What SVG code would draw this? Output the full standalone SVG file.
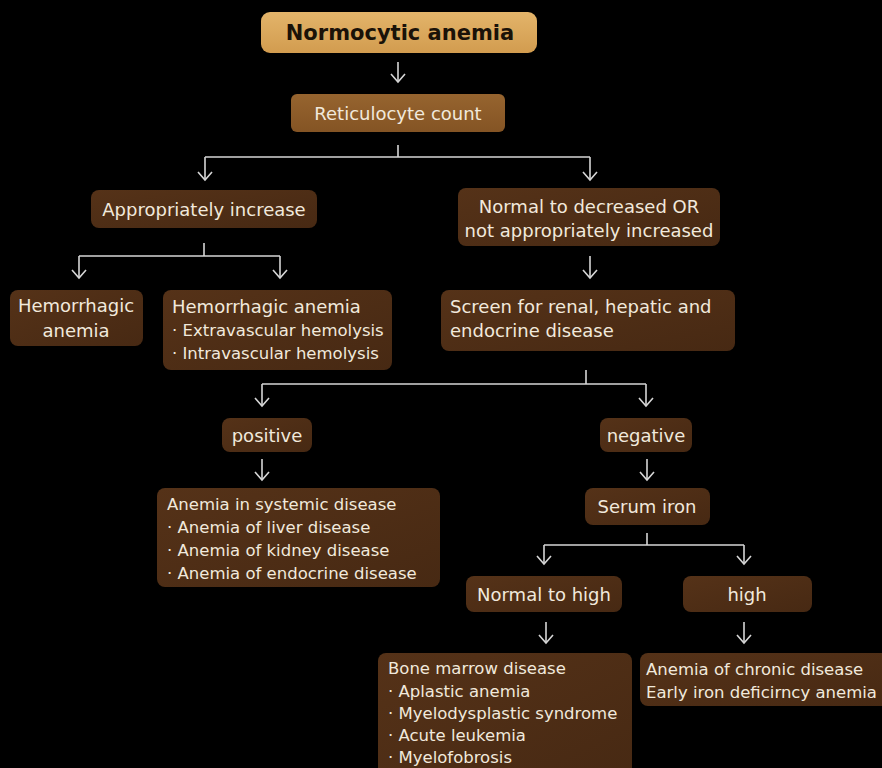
<svg xmlns="http://www.w3.org/2000/svg" width="882" height="768" viewBox="0 0 882 768">
  <defs>
    <linearGradient id="gold" x1="0" y1="0" x2="0" y2="1">
      <stop offset="0" stop-color="#e3b46a"/>
      <stop offset="1" stop-color="#d29c4f"/>
    </linearGradient>
    <linearGradient id="tan" x1="0" y1="0" x2="0" y2="1">
      <stop offset="0" stop-color="#96642f"/>
      <stop offset="1" stop-color="#845424"/>
    </linearGradient>
    <linearGradient id="brown" x1="0" y1="0" x2="1" y2="1">
      <stop offset="0" stop-color="#553218"/>
      <stop offset="1" stop-color="#472913"/>
    </linearGradient>
    <marker id="vee" markerUnits="userSpaceOnUse" markerWidth="14" markerHeight="20" viewBox="-12 -10 14 20" refX="0" refY="0" orient="auto">
      <path d="M-8,-7 L0,0 L-8,7" fill="none" stroke="#d6d6d6" stroke-width="1.6"/>
    </marker>
    <style>
      .box { fill: url(#brown); }
      .txt { font-family: "DejaVu Sans", "Noto Sans", sans-serif; font-size: 18px; fill: #f1e9dc; }
      .sm { font-size: 16.5px; }
      .mid { text-anchor: middle; }
      .wire { fill: none; stroke: #d6d6d6; stroke-width: 1.6; }
    </style>
  </defs>
  <rect width="882" height="768" fill="#000"/>

  <g id="n-normocytic">
    <rect x="261" y="12" width="276" height="41" rx="9" fill="url(#gold)"/>
    <text x="400" y="40" class="mid" font-family="'DejaVu Sans', sans-serif" font-size="21" font-weight="bold" fill="#1a1208">Normocytic anemia</text>
  </g>
  <g id="n-retic">
    <rect x="291" y="94" width="214" height="38" rx="6" fill="url(#tan)"/>
    <text x="398" y="120" class="txt mid">Reticulocyte count</text>
  </g>
  <g id="n-approp">
    <rect class="box" x="91" y="190" width="226" height="38" rx="8"/>
    <text x="204" y="216" class="txt mid">Appropriately increase</text>
  </g>
  <g id="n-normal-dec">
    <rect class="box" x="458" y="188" width="262" height="58" rx="8"/>
    <text x="589" y="213" class="txt mid">Normal to decreased OR</text>
    <text x="589" y="237" class="txt mid">not appropriately increased</text>
  </g>
  <g id="n-hemorrhagic">
    <rect class="box" x="10" y="290" width="133" height="56" rx="8"/>
    <text x="76" y="312" class="txt mid">Hemorrhagic</text>
    <text x="76" y="337" class="txt mid">anemia</text>
  </g>
  <g id="n-hemolysis">
    <rect class="box" x="163" y="290" width="229" height="80" rx="8"/>
    <text x="172" y="313" class="txt">Hemorrhagic anemia</text>
    <text x="172" y="336" class="txt sm">· Extravascular hemolysis</text>
    <text x="172" y="359" class="txt sm">· Intravascular hemolysis</text>
  </g>
  <g id="n-screen">
    <rect class="box" x="441" y="290" width="294" height="61" rx="8"/>
    <text x="450" y="313" class="txt">Screen for renal, hepatic and</text>
    <text x="450" y="337" class="txt">endocrine disease</text>
  </g>
  <g id="n-positive">
    <rect class="box" x="222" y="418" width="90" height="34" rx="8"/>
    <text x="267" y="442" class="txt mid">positive</text>
  </g>
  <g id="n-negative">
    <rect class="box" x="600" y="418" width="92" height="34" rx="8"/>
    <text x="646" y="442" class="txt mid">negative</text>
  </g>
  <g id="n-systemic">
    <rect class="box" x="157" y="488" width="283" height="99" rx="8"/>
    <text x="167" y="510" class="txt sm">Anemia in systemic disease</text>
    <text x="167" y="533" class="txt sm">· Anemia of liver disease</text>
    <text x="167" y="556" class="txt sm">· Anemia of kidney disease</text>
    <text x="167" y="579" class="txt sm">· Anemia of endocrine disease</text>
  </g>
  <g id="n-serum">
    <rect class="box" x="585" y="488" width="125" height="37" rx="8"/>
    <text x="647" y="513" class="txt mid">Serum iron</text>
  </g>
  <g id="n-normal-high">
    <rect class="box" x="466" y="576" width="156" height="36" rx="8"/>
    <text x="544" y="601" class="txt mid">Normal to high</text>
  </g>
  <g id="n-high">
    <rect class="box" x="683" y="576" width="129" height="36" rx="8"/>
    <text x="747" y="601" class="txt mid">high</text>
  </g>
  <g id="n-marrow">
    <rect class="box" x="378" y="653" width="254" height="125" rx="8"/>
    <text x="388" y="674" class="txt sm">Bone marrow disease</text>
    <text x="388" y="697" class="txt sm">· Aplastic anemia</text>
    <text x="388" y="719" class="txt sm">· Myelodysplastic syndrome</text>
    <text x="388" y="741" class="txt sm">· Acute  leukemia</text>
    <text x="388" y="763" class="txt sm">· Myelofobrosis</text>
  </g>
  <g id="n-chronic">
    <rect class="box" x="640" y="653" width="250" height="53" rx="8"/>
    <text x="646" y="675" class="txt sm">Anemia of chronic disease</text>
    <text x="646" y="698" class="txt sm">Early iron deficirncy anemia</text>
  </g>

  <g id="connectors">
    <path class="wire" d="M398,62 V82" marker-end="url(#vee)"/>
    <path class="wire" d="M398,145 V157"/>
    <path class="wire" d="M205,157 H590"/>
    <path class="wire" d="M205,157 V180" marker-end="url(#vee)"/>
    <path class="wire" d="M590,157 V180" marker-end="url(#vee)"/>
    <path class="wire" d="M204,243 V256"/>
    <path class="wire" d="M79,256 H280"/>
    <path class="wire" d="M79,256 V278" marker-end="url(#vee)"/>
    <path class="wire" d="M280,256 V278" marker-end="url(#vee)"/>
    <path class="wire" d="M590,256 V278" marker-end="url(#vee)"/>
    <path class="wire" d="M586,370 V384"/>
    <path class="wire" d="M262,384 H646"/>
    <path class="wire" d="M262,384 V406" marker-end="url(#vee)"/>
    <path class="wire" d="M646,384 V406" marker-end="url(#vee)"/>
    <path class="wire" d="M262,459 V480" marker-end="url(#vee)"/>
    <path class="wire" d="M647,459 V480" marker-end="url(#vee)"/>
    <path class="wire" d="M647,533 V545"/>
    <path class="wire" d="M544,545 H744"/>
    <path class="wire" d="M544,545 V564" marker-end="url(#vee)"/>
    <path class="wire" d="M744,545 V564" marker-end="url(#vee)"/>
    <path class="wire" d="M546,622 V643" marker-end="url(#vee)"/>
    <path class="wire" d="M744,622 V643" marker-end="url(#vee)"/>
  </g>
</svg>
